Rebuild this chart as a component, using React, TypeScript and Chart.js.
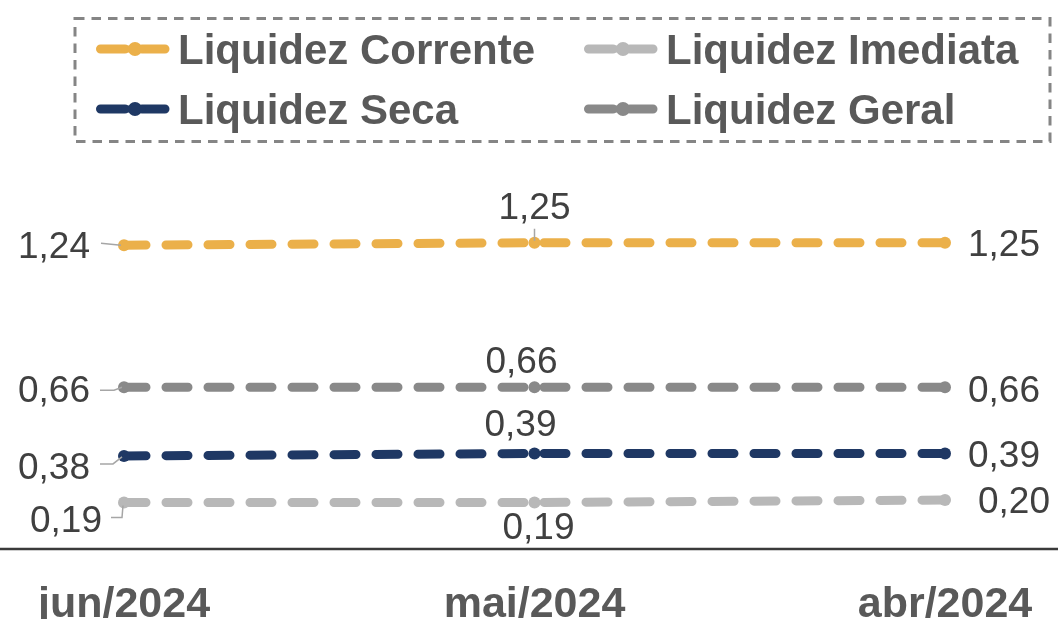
import React, { useEffect, useRef } from "react";
import { Chart, registerables } from "chart.js";

Chart.register(...registerables);

// ---- data ----
const categories = ["jun/2024", "mai/2024", "abr/2024"];
const seriesNames = ["Liquidez Corrente", "Liquidez Imediata", "Liquidez Seca", "Liquidez Geral"];
const liquidezCorrente = [1.24, 1.25, 1.25];
const liquidezImediata = [0.19, 0.19, 0.2];
const liquidezSeca = [0.38, 0.39, 0.39];
const liquidezGeral = [0.66, 0.66, 0.66];

// ---- styles ----
const COLORS = ["#EBB04A", "#B8B8B8", "#1F3864", "#898989"];
const FONT = "'Liberation Sans', Arial, sans-serif";
const LABEL_COLOR = "#404040";
const LEGEND_COLOR = "#595959";
const LEADER_COLOR = "#A6A6A6";

type LabelPos = { dx: number; dy: number; align: CanvasTextAlign; leader?: number[][] };
// per series (same order as datasets), per point
const LABEL_LAYOUT: LabelPos[][] = [
  [
    { dx: -34, dy: 0, align: "right", leader: [[-23, -2], [-3, 0]] },
    { dx: 0, dy: -37, align: "center", leader: [[0, -14], [0, -2]] },
    { dx: 23, dy: 0, align: "left" },
  ],
  [
    { dx: -22, dy: 16, align: "right", leader: [[-13, 15], [-2, 15], [-1, 3]] },
    { dx: 4, dy: 23, align: "center" },
    { dx: 33, dy: 0, align: "left" },
  ],
  [
    { dx: -34, dy: 10, align: "right", leader: [[-24, 8], [-11, 8], [-2, 1]] },
    { dx: -14, dy: -31, align: "center" },
    { dx: 23, dy: 0, align: "left" },
  ],
  [
    { dx: -34, dy: 1, align: "right", leader: [[-24, 3], [-10, 3], [-2, 0]] },
    { dx: -13, dy: -28, align: "center" },
    { dx: 23, dy: 1, align: "left" },
  ],
];

// legend layout
const LEGEND_ITEMS = [
  { idx: 0, x: 96, y: 48 },
  { idx: 1, x: 584, y: 48 },
  { idx: 2, x: 96, y: 108 },
  { idx: 3, x: 584, y: 108 },
];

const fmt = (v: number) => v.toFixed(2).replace(".", ",");

const customPlugin = {
  id: "customDraw",
  beforeDatasetsDraw(chart: any) {
    const ctx = chart.ctx as CanvasRenderingContext2D;
    const y0 = chart.scales.y.getPixelForValue(0);
    ctx.save();
    ctx.strokeStyle = "#3A3A3A";
    ctx.lineWidth = 2.5;
    ctx.beginPath();
    ctx.moveTo(0, y0);
    ctx.lineTo(chart.width, y0);
    ctx.stroke();
    ctx.restore();
  },
  afterDatasetsDraw(chart: any) {
    const ctx = chart.ctx as CanvasRenderingContext2D;
    ctx.save();
    const size = 37;
    ctx.font = `${size}px ${FONT}`;
    ctx.fillStyle = LABEL_COLOR;
    ctx.textBaseline = "alphabetic";
    chart.data.datasets.forEach((ds: any, i: number) => {
      const meta = chart.getDatasetMeta(i);
      meta.data.forEach((pt: any, j: number) => {
        const lay = LABEL_LAYOUT[i][j];
        const v = ds.data[j] as number;
        if (lay.leader) {
          ctx.strokeStyle = LEADER_COLOR;
          ctx.lineWidth = 1.5;
          ctx.beginPath();
          lay.leader.forEach((p, k) => {
            if (k === 0) ctx.moveTo(pt.x + p[0], pt.y + p[1]);
            else ctx.lineTo(pt.x + p[0], pt.y + p[1]);
          });
          ctx.stroke();
        }
        ctx.textAlign = lay.align;
        ctx.fillText(fmt(v), pt.x + lay.dx, pt.y + lay.dy + size * 0.358);
      });
    });
    ctx.restore();
  },
  afterDraw(chart: any) {
    const ctx = chart.ctx as CanvasRenderingContext2D;
    ctx.save();
    // legend box
    ctx.strokeStyle = "#858585";
    ctx.lineWidth = 3;
    ctx.setLineDash([9.5, 7]);
    ctx.strokeRect(75, 18.5, 975, 123);
    ctx.setLineDash([]);
    // items
    const fsize = 42;
    LEGEND_ITEMS.forEach((it) => {
      const c = COLORS[it.idx];
      ctx.strokeStyle = c;
      ctx.fillStyle = c;
      ctx.lineWidth = 9;
      ctx.lineCap = "round";
      ctx.beginPath();
      ctx.moveTo(it.x + 4.5, it.y + 1);
      ctx.lineTo(it.x + 29, it.y + 1);
      ctx.moveTo(it.x + 46, it.y + 1);
      ctx.lineTo(it.x + 69, it.y + 1);
      ctx.stroke();
      ctx.beginPath();
      ctx.arc(it.x + 39, it.y + 1, 7, 0, Math.PI * 2);
      ctx.fill();
      ctx.beginPath();
      ctx.moveTo(it.x + 29, it.y + 1);
      ctx.lineTo(it.x + 46, it.y + 1);
      ctx.lineWidth = 7;
      ctx.stroke();
      ctx.font = `bold ${fsize}px ${FONT}`;
      ctx.fillStyle = LEGEND_COLOR;
      ctx.textAlign = "left";
      ctx.textBaseline = "alphabetic";
      ctx.fillText(seriesNames[it.idx], it.x + 82, it.y + 0.5 + fsize * 0.358);
    });
    ctx.restore();
  },
};

export default function App() {
  const ref = useRef<HTMLCanvasElement | null>(null);
  useEffect(() => {
    document.body.style.margin = "0";
    document.body.style.overflow = "hidden";
    const canvas = ref.current!;
    const seriesData = [liquidezCorrente, liquidezImediata, liquidezSeca, liquidezGeral];
    const chart = new Chart(canvas, {
      type: "line",
      data: {
        labels: categories,
        datasets: seriesData.map((d, i) => ({
          label: seriesNames[i],
          data: d,
          borderColor: COLORS[i],
          backgroundColor: COLORS[i],
          borderWidth: 9,
          borderDash: [22, 20],
          borderCapStyle: "round" as const,
          pointRadius: 6,
          pointBorderWidth: 0,
          pointBackgroundColor: COLORS[i],
          tension: 0,
          clip: false as any,
        })),
      },
      options: {
        responsive: false,
        animation: false,
        devicePixelRatio: 1,
        layout: { padding: { left: 124, right: 113, top: 157, bottom: 0 } },
        plugins: { legend: { display: false }, tooltip: { enabled: false } },
        scales: {
          x: {
            type: "category",
            offset: false,
            grid: { display: false, drawTicks: false },
            border: { display: false },
            ticks: {
              color: LEGEND_COLOR,
              font: { family: FONT, size: 43, weight: "bold" },
              padding: 30,
              maxRotation: 0,
              autoSkip: false,
            },
            afterFit: (s: any) => {
              s.height = 70;
              s.paddingLeft = 0;
              s.paddingRight = 0;
            },
          },
          y: {
            display: false,
            min: 0,
            max: 1.6,
          },
        },
      },
      plugins: [customPlugin],
    });
    return () => chart.destroy();
  }, []);
  return (
    <div style={{ position: "absolute", left: 0, top: 0, width: 1058, height: 619 }}>
      <canvas ref={ref} width={1058} height={619} style={{ display: "block" }} />
    </div>
  );
}
